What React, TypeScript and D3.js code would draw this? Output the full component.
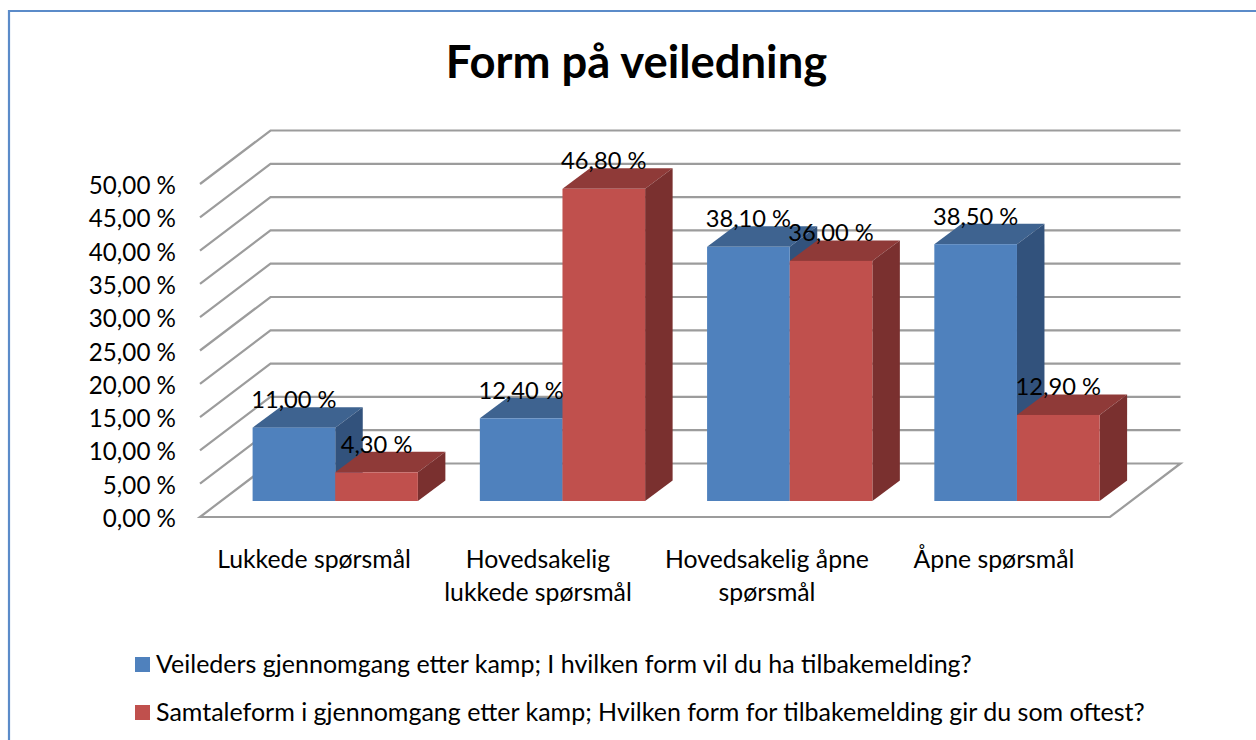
import React from "react";
import * as d3 from "d3";

const categories = ["Lukkede spørsmål", "Hovedsakelig lukkede spørsmål", "Hovedsakelig åpne spørsmål", "Åpne spørsmål"];
const categoryLines = [["Lukkede spørsmål"], ["Hovedsakelig", "lukkede spørsmål"], ["Hovedsakelig åpne", "spørsmål"], ["Åpne spørsmål"]];
const categoryLabelX = [314, 538, 767, 994];
const seriesNames = [
  "Veileders gjennomgang etter kamp; I hvilken form vil du ha tilbakemelding?",
  "Samtaleform i gjennomgang etter kamp; Hvilken form for tilbakemelding gir du som oftest?",
];
const veileder = [11.0, 12.4, 38.1, 38.5];
const samtale = [4.3, 46.8, 36.0, 12.9];
const seriesValues = [veileder, samtale];
const ticks = [0, 5, 10, 15, 20, 25, 30, 35, 40, 45, 50];
const palette = [
  { front: "#4f81bd", top: "#3e6390", side: "#32527c" },
  { front: "#c0504d", top: "#8f3a38", side: "#7a302f" },
];

const FONT = "Lato, Carlito, 'Open Sans', sans-serif";
const fmt = (v: number) => v.toFixed(2).replace(".", ",") + " %";

export default function App() {
  const y = d3.scaleLinear().domain([0, 50]).range([517, 184]);
  const barY = d3.scaleLinear().domain([0, 50]).range([501, 167.5]);
  const x0 = d3.scaleBand().domain(categories).range([221.6, 1130.6]).paddingInner(0.2727).paddingOuter(0.1364);
  const x1 = d3.scaleBand().domain(["0", "1"]).range([0, x0.bandwidth()]);
  const wall = { dx: 70.5, dy: -53.5 };
  const depth = { dx: 27.5, dy: -20.5 };
  const left = 200, right = 1110;
  const floor = d3.line()([
    [left, y(0)], [right, y(0)], [right + wall.dx, y(0) + wall.dy], [left + wall.dx, y(0) + wall.dy],
  ]) + "Z";

  return (
    <svg width={1256} height={740} viewBox="0 0 1256 740" style={{ position: "absolute", left: 0, top: 0, background: "#fff" }} fontFamily={FONT}>
      <path d="M9 740V11H1256" fill="none" stroke="#5b8bc9" strokeWidth={2.2} />
      <text x={636.5} y={78} textAnchor="middle" fontSize={45.4} fontWeight={700} fill="#000">Form på veiledning</text>

      {ticks.slice(1).map((t) => (
        <polyline key={t} fill="none" stroke="#9c9c9c" strokeWidth={2.2}
          points={`${left},${y(t)} ${left + wall.dx},${y(t) + wall.dy} ${right + wall.dx},${y(t) + wall.dy}`} />
      ))}
      <path d={floor} fill="#fff" stroke="#9c9c9c" strokeWidth={2.2} />

      {ticks.map((t) => (
        <text key={t} x={176} y={y(t) + 10} textAnchor="end" fontSize={24.2} fill="#000">{fmt(t)}</text>
      ))}

      {categories.map((c, i) => (
        <g key={c}>
          {seriesValues.map((vals, s) => {
            const xa = x0(c)! + x1(String(s))!;
            const w = x1.bandwidth();
            const yt = barY(vals[i]);
            const yb = barY(0);
            const p = palette[s];
            return (
              <g key={s}>
                <path fill={p.top} d={`M${xa} ${yt}l${depth.dx} ${depth.dy}h${w}l${-depth.dx} ${-depth.dy}Z`} />
                <path fill={p.side} d={`M${xa + w} ${yt}l${depth.dx} ${depth.dy}V${yb + depth.dy}l${-depth.dx} ${-depth.dy}Z`} />
                <rect x={xa} y={yt} width={w} height={yb - yt} fill={p.front} />
              </g>
            );
          })}
        </g>
      ))}

      {categories.map((c, i) =>
        seriesValues.map((vals, s) => (
          <text key={c + s} x={x0(c)! + x1(String(s))! + x1.bandwidth() / 2} y={barY(vals[i]) - 19.5}
            textAnchor="middle" fontSize={23.7} fill="#000">{fmt(vals[i])}</text>
        ))
      )}

      {categoryLines.map((lines, i) => (
        <text key={i} textAnchor="middle" fontSize={24.8} fill="#000">
          {lines.map((l, j) => (
            <tspan key={j} x={categoryLabelX[i]} y={568 + j * 33}>{l}</tspan>
          ))}
        </text>
      ))}

      {seriesNames.map((n, s) => (
        <g key={n}>
          <rect x={135} y={657 + s * 48} width={15} height={15} fill={palette[s].front} />
          <text x={156} y={673 + s * 48} fontSize={25} fill="#000">{n}</text>
        </g>
      ))}
    </svg>
  );
}
